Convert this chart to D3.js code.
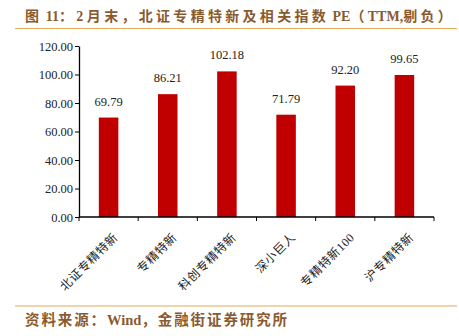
<!DOCTYPE html>
<html>
<head>
<meta charset="utf-8">
<script src="https://cdn.jsdelivr.net/npm/d3@7"></script>
<style>
  html, body { margin: 0; padding: 0; background: #fff; }
  svg { display: block; }
</style>
</head>
<body>
<svg id="chart" width="459" height="336"></svg>
<script>
// Index names and their PE (TTM, negatives excluded) at end of February
const categories = ["北证专精特新", "专精特新", "科创专精特新", "深小巨人", "专精特新100", "沪专精特新"];
const peValues = [69.79, 86.21, 102.18, 71.79, 92.20, 99.65];
const yTicks = [0, 20, 40, 60, 80, 100, 120];

const titleText = "图 11：2 月末，北证专精特新及相关指数 PE（TTM,剔负）";
const sourceText = "资料来源：Wind，金融街证券研究所";

const svg = d3.select("#chart");
const plot = { left: 79, right: 434, top: 46, bottom: 217 };

const serif = "'Liberation Serif', 'Times New Roman', 'Noto Sans CJK SC', serif";
const cjk = "'Liberation Serif', 'Noto Sans CJK SC', serif";

// Split a string into runs of CJK / non-CJK characters so that the
// full-width glyphs can get their own tracking.
function runs(str) {
  const isWide = ch => /[\u3000-\u303f\u3400-\u9fff\uff00-\uffef]/.test(ch);
  const out = [];
  for (const ch of str) {
    const w = isWide(ch);
    if (out.length && out[out.length - 1].wide === w) out[out.length - 1].text += ch;
    else out.push({ text: ch, wide: w });
  }
  return out;
}

function headingText(str, xPos, yPos, size, wideSpacing) {
  const t = svg.append("text")
    .attr("x", xPos).attr("y", yPos)
    .attr("font-family", cjk)
    .attr("font-weight", "bold")
    .attr("font-size", size)
    .attr("fill", "#8a5a2e");
  t.selectAll("tspan")
    .data(runs(str))
    .join("tspan")
    .attr("letter-spacing", d => d.wide ? wideSpacing : 0)
    .text(d => d.text);
  return t;
}

// Title, source note and the two rules
headingText(titleText, 25, 21, 14, 3.3);

svg.append("line")
  .attr("x1", 15).attr("x2", 457).attr("y1", 28.5).attr("y2", 28.5)
  .attr("stroke", "#e2a95a").attr("stroke-width", 1.2);

svg.append("line")
  .attr("x1", 15).attr("x2", 457).attr("y1", 306).attr("y2", 306)
  .attr("stroke", "#e2a95a").attr("stroke-width", 1.2);

headingText(sourceText, 25, 325, 14.5, 1.9);

// Scales
const x = d3.scaleBand()
  .domain(categories)
  .range([plot.left, plot.right])
  .paddingInner(0.67)
  .paddingOuter(0.335);

const y = d3.scaleLinear()
  .domain([0, 120])
  .range([plot.bottom, plot.top]);

// Bars
svg.append("g")
  .selectAll("rect")
  .data(peValues)
  .join("rect")
  .attr("x", (d, i) => x(categories[i]))
  .attr("y", d => y(d))
  .attr("width", x.bandwidth())
  .attr("height", d => y(0) - y(d))
  .attr("fill", "#c00000");

// Value labels
svg.append("g")
  .selectAll("text")
  .data(peValues)
  .join("text")
  .attr("x", (d, i) => x(categories[i]) + x.bandwidth() / 2)
  .attr("y", d => y(d) - 12)
  .attr("text-anchor", "middle")
  .attr("font-family", serif)
  .attr("font-size", 12.5)
  .attr("fill", "#222")
  .text(d => d.toFixed(2));

// Y axis
const yAxis = d3.axisLeft(y)
  .tickValues(yTicks)
  .tickFormat(d => d.toFixed(2))
  .tickSize(4)
  .tickSizeOuter(0);

const gy = svg.append("g")
  .attr("transform", `translate(${plot.left},0)`)
  .call(yAxis);
gy.select(".domain").attr("stroke", "#000").attr("stroke-width", 1.3);
gy.selectAll(".tick line").attr("stroke", "#000");
gy.selectAll(".tick text")
  .attr("font-family", serif)
  .attr("font-size", 12.5)
  .attr("fill", "#222")
  .attr("x", -6);

// X axis: ticks sit on the band boundaries
const bandEdges = categories.map(c => x(c) - x.step() * x.paddingInner() / 2);
bandEdges.push(plot.right);

const gx = svg.append("g");
gx.append("line")
  .attr("x1", plot.left).attr("x2", plot.right)
  .attr("y1", plot.bottom).attr("y2", plot.bottom)
  .attr("stroke", "#000").attr("stroke-width", 1.3);
gx.selectAll("line.tick")
  .data(bandEdges)
  .join("line")
  .attr("class", "tick")
  .attr("x1", d => d).attr("x2", d => d)
  .attr("y1", plot.bottom).attr("y2", plot.bottom + 4)
  .attr("stroke", "#000");

gx.selectAll("text")
  .data(categories)
  .join("text")
  .attr("transform", d => `translate(${x(d) + x.bandwidth() / 2 + 10},${plot.bottom + 21}) rotate(-45)`)
  .attr("text-anchor", "end")
  .attr("font-family", cjk)
  .attr("font-size", 12)
  .attr("letter-spacing", 0.6)
  .attr("fill", "#222")
  .text(d => d);
</script>
</body>
</html>
